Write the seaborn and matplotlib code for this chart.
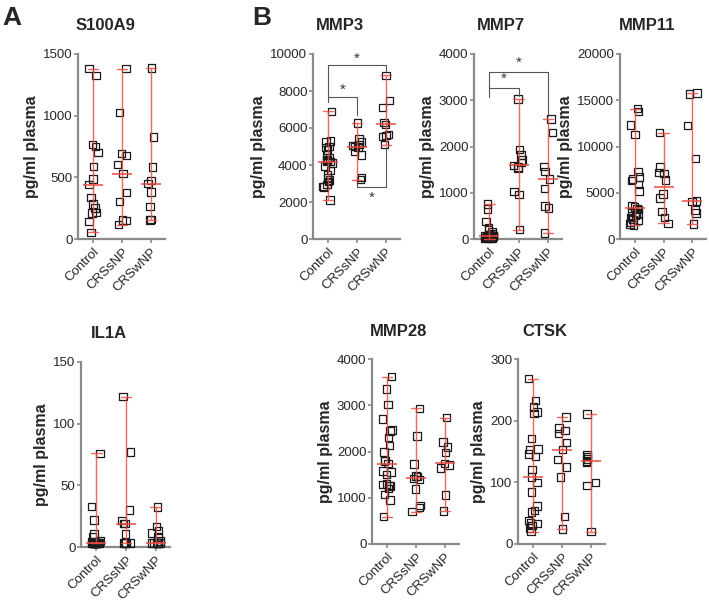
import numpy as np
import pandas as pd
import matplotlib
matplotlib.use('Agg')
import matplotlib.pyplot as plt
import seaborn as sns

groups = ['Control', 'CRSsNP', 'CRSwNP']

s100a9_control = [1381, 1327, 765, 751, 703, 589, 486, 440, 338, 284, 251, 216, 211, 143, 54]
s100a9_crssnp = [1381, 1027, 692, 676, 603, 530, 378, 305, 155, 152, 116]
s100a9_crswnp = [1386, 827, 584, 476, 449, 381, 265, 160, 155]

mmp3_control = [6900, 5300, 5250, 5000, 4950, 4800, 4550, 4400, 4300, 4250, 4200, 4180,
                4100, 3950, 3700, 3450, 3300, 3200, 3100, 2950, 2850, 2800, 2100]
mmp3_crssnp = [6270, 5400, 5250, 5100, 5050, 5000, 4950, 4750, 4550, 3330, 3210]
mmp3_crswnp = [8850, 7500, 7100, 6300, 6200, 5650, 5600, 5550, 5100]

mmp7_control = [760, 650, 380, 240, 200, 150, 120, 100, 90, 80, 75, 72, 70, 65, 60, 55,
                50, 45, 40, 35, 30, 25, 20, 15, 10]
mmp7_crssnp = [3030, 1930, 1820, 1710, 1650, 1593, 1560, 1520, 1030, 960, 205]
mmp7_crswnp = [2600, 2300, 1570, 1460, 1300, 1090, 710, 670, 130]

mmp11_control = [14100, 13800, 12300, 11300, 7300, 6700, 6500, 6300, 5900, 5200, 3600, 3450,
                 3320, 3200, 3000, 2800, 2700, 2600, 2500, 2300, 2100, 2000, 1800, 1600, 1500]
mmp11_crssnp = [11500, 7800, 7200, 7100, 6400, 4850, 4450, 2950, 2350, 1700]
mmp11_crswnp = [15800, 15700, 12250, 8700, 4100, 4050, 3150, 2800, 1600]

il1a_control = [76, 33, 22, 10.5, 8, 5, 4, 3.2, 3.2, 3.2, 3.2, 3.2, 3.2, 3.2, 3.2, 3.2,
                3.2, 3.2, 3.2, 3.2]
il1a_crssnp = [122, 77, 30, 21.6, 19, 18.9, 10.5, 3.2, 3.2, 3.2, 3.2]
il1a_crswnp = [32.6, 16.7, 13.5, 11.3, 8.1, 5, 3.2, 3.2, 3.2, 3.2, 3.2, 3.2, 3.2]

mmp28_control = [3620, 3350, 3020, 2700, 2460, 2440, 2300, 2130, 1990, 1810, 1790, 1740,
                 1580, 1560, 1500, 1300, 1290, 1270, 1250, 1200, 1070, 950, 590]
mmp28_crssnp = [2930, 2335, 1730, 1470, 1460, 1420, 1400, 1190, 830, 790, 700]
mmp28_crswnp = [2730, 2210, 2100, 1975, 1745, 1710, 1640, 1060, 715]

ctsk_control = [268, 233, 222, 214, 212, 171, 154, 153, 146, 142, 121, 109, 100, 84, 62,
                54, 52, 38, 34, 33, 30, 26, 20]
ctsk_crssnp = [206, 188, 184, 179, 165, 153, 137, 125, 109, 45, 24]
ctsk_crswnp = [211, 145, 142, 138, 135, 132, 100, 95, 20]

# name, data, ymax, ystep, axes box in px (left, right, top, bottom)
panels = [
    ('S100A9', [s100a9_control, s100a9_crssnp, s100a9_crswnp], 1500, 500, (78, 165, 54, 239)),
    ('MMP3', [mmp3_control, mmp3_crssnp, mmp3_crswnp], 10000, 2000, (313, 400, 54, 239)),
    ('MMP7', [mmp7_control, mmp7_crssnp, mmp7_crswnp], 4000, 1000, (474, 562, 54, 239)),
    ('MMP11', [mmp11_control, mmp11_crssnp, mmp11_crswnp], 20000, 5000, (620, 706, 54, 239)),
    ('IL1A', [il1a_control, il1a_crssnp, il1a_crswnp], 150, 50, (81, 170, 362, 547)),
    ('MMP28', [mmp28_control, mmp28_crssnp, mmp28_crswnp], 4000, 1000, (372, 459, 359, 544)),
    ('CTSK', [ctsk_control, ctsk_crssnp, ctsk_crswnp], 300, 100, (518, 605, 359, 544)),
]

# significance brackets: (x1, x2, y_bar, y_leg1, y_leg2)
mmp3_brackets = [(0, 2, 9400, 7700, 9100), (0, 1, 7700, 7400, 6700), (1, 2, 2800, 3050, 5000)]
mmp3_stars = [(1, 9750), (0.5, 8050), (1.5, 2250)]
mmp7_brackets = [(0, 2, 3610, 3270, 2650), (0, 1, 3270, 3060, 3100)]
mmp7_stars = [(1, 3820), (0.5, 3470)]

W, H = 709, 606
red = '#ee4a40'
grey = '#8a8a8a'

sns.set_style('ticks')
plt.rcParams['font.family'] = ['Liberation Sans', 'DejaVu Sans']
np.random.seed(7)

fig = plt.figure(figsize=(W / 100, H / 100), dpi=100)
axes = {}
for name, data, ymax, ystep, (l, r, t, b) in panels:
    ax = fig.add_axes([l / W, 1 - b / H, (r - l) / W, (b - t) / H])
    axes[name] = ax
    df = pd.DataFrame({
        'group': np.concatenate([[g] * len(v) for g, v in zip(groups, data)]),
        'value': np.concatenate(data),
    })
    sns.stripplot(data=df, x='group', y='value', order=groups, marker='s', size=5.4,
                  jitter=0.17, color='black', linewidth=0.9, ax=ax)
    for c in ax.collections:
        c.set_facecolor('none')
        c.set_edgecolor('#1a1a1a')
        c.set_clip_on(False)
    sns.pointplot(data=df, x='group', y='value', order=groups, estimator='median',
                  errorbar=lambda v: (v.min(), v.max()), color=red, markers='_',
                  linestyles='none', markersize=14, markeredgewidth=1.1, capsize=0.36,
                  err_kws={'linewidth': 1.0, 'alpha': 0.85}, ax=ax)
    for ln in ax.lines:
        ln.set_clip_on(False)
        ln.set_zorder(5)
    ax.set_xlim(-0.52, 2.48)
    ax.set_ylim(0, ymax)
    ax.set_yticks(np.arange(0, ymax + 1, ystep))
    ax.set_xlabel('')
    ax.set_ylabel('pg/ml plasma', fontsize=11.5, fontweight='bold', labelpad=3)
    ax.set_xticks(range(3))
    ax.set_xticklabels(groups, rotation=45, ha='right', rotation_mode='anchor', fontsize=9.5)
    ax.tick_params(axis='y', labelsize=9.5, length=3, width=1.2, color=grey, pad=1)
    ax.tick_params(axis='x', length=3, width=1.2, color=grey, pad=2)
    sns.despine(ax=ax)
    for s in ['left', 'bottom']:
        ax.spines[s].set_color(grey)
        ax.spines[s].set_linewidth(1.6)
    ax.text(0.31, 1 + 28 / (b - t), name, transform=ax.transAxes, ha='center',
            va='center', fontsize=12, fontweight='bold')

for ax, brackets, stars in [(axes['MMP3'], mmp3_brackets, mmp3_stars),
                            (axes['MMP7'], mmp7_brackets, mmp7_stars)]:
    for x1, x2, yb, y1, y2 in brackets:
        ax.plot([x1, x1, x2, x2], [y1, yb, yb, y2], color='#555555', lw=0.8,
                clip_on=False, zorder=6)
    for xs, ys in stars:
        ax.text(xs, ys, '*', ha='center', va='center', fontsize=11, color='#333333')

fig.text(2 / W, 1 - 18 / H, 'A', fontsize=19, fontweight='bold', va='center')
fig.text(252 / W, 1 - 18 / H, 'B', fontsize=19, fontweight='bold', va='center')

fig.savefig('out.png', dpi=100)
